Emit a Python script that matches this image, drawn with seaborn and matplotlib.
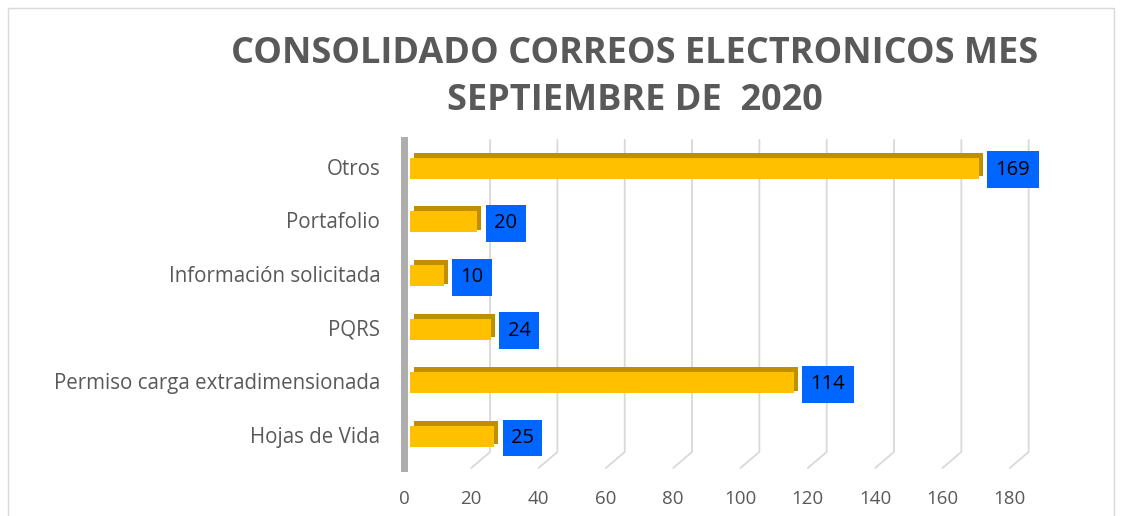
import matplotlib.pyplot as plt
import matplotlib.patches as mpatches
import seaborn as sns
import pandas as pd

# Data
categorias = ['Otros', 'Portafolio', 'Información solicitada', 'PQRS',
              'Permiso carga extradimensionada', 'Hojas de Vida']
correos = [169, 20, 10, 24, 114, 25]
ticks_x = [0, 20, 40, 60, 80, 100, 120, 140, 160, 180]
titulo = 'CONSOLIDADO CORREOS ELECTRONICOS MES\nSEPTIEMBRE DE  2020'

df = pd.DataFrame({'Categoria': categorias, 'Correos': correos})

sns.set_theme(style='white')
plt.rcParams['font.family'] = ['Open Sans', 'DejaVu Sans']

fig = plt.figure(figsize=(11.22, 5.16), dpi=100)
ax = fig.add_axes([0.360, 0.093, 0.540, 0.636])

# fake 3D: back/top face of the bars in darker gold
ax.barh([i - 0.04 for i in range(len(correos))], correos, height=0.44, left=3.0,
        color='#BF8F00', linewidth=0, zorder=2)
sns.barplot(data=df, x='Correos', y='Categoria', orient='h', ax=ax,
            color='#FFC000', saturation=1, width=0.39, linewidth=0, zorder=3)
# move front faces a little right/down so the dark faces show
for p in ax.patches[len(correos):]:
    p.set_y(p.get_y() + 0.03)
    p.set_x(p.get_x() + 1.8)

for i, v in enumerate(correos):
    ax.text(v + 6.8, i + 0.06, str(v), ha='left', va='center', fontsize=14.5,
            color='black', zorder=5,
            bbox=dict(boxstyle='square,pad=0.42', facecolor='#0066FF', edgecolor='none'))

ax.set_xlim(0, 180)
ax.set_ylim(5.62, -0.5)
ax.set_xticks(ticks_x)
ax.set_xlabel('')
ax.set_ylabel('')
ax.tick_params(axis='x', labelsize=13.5, colors='#595959', length=0, pad=16)
ax.tick_params(axis='y', labelsize=14.8, colors='#595959', length=0, pad=17)

# back wall gridlines + floor diagonals
for x in ticks_x[1:]:
    ax.plot([x + 5.6, x + 5.6, x], [-0.5, 5.32, 5.62], color='#D9D9D9', lw=1.3,
            zorder=1, clip_on=False)
for s in ['top', 'right', 'bottom']:
    ax.spines[s].set_visible(False)
ax.spines['left'].set_color('#ADADAD')
ax.spines['left'].set_linewidth(5)

fig.text(0.566, 0.85, titulo, ha='center', va='center', fontsize=26,
         fontweight='bold', color='#595959', linespacing=1.38)

# outer chart border
fig.patches.append(mpatches.Rectangle((0.007, -0.02), 0.986, 1.005, transform=fig.transFigure,
                                      fill=False, edgecolor='#D9D9D9', lw=1))

fig.savefig('out.png', dpi=100)
